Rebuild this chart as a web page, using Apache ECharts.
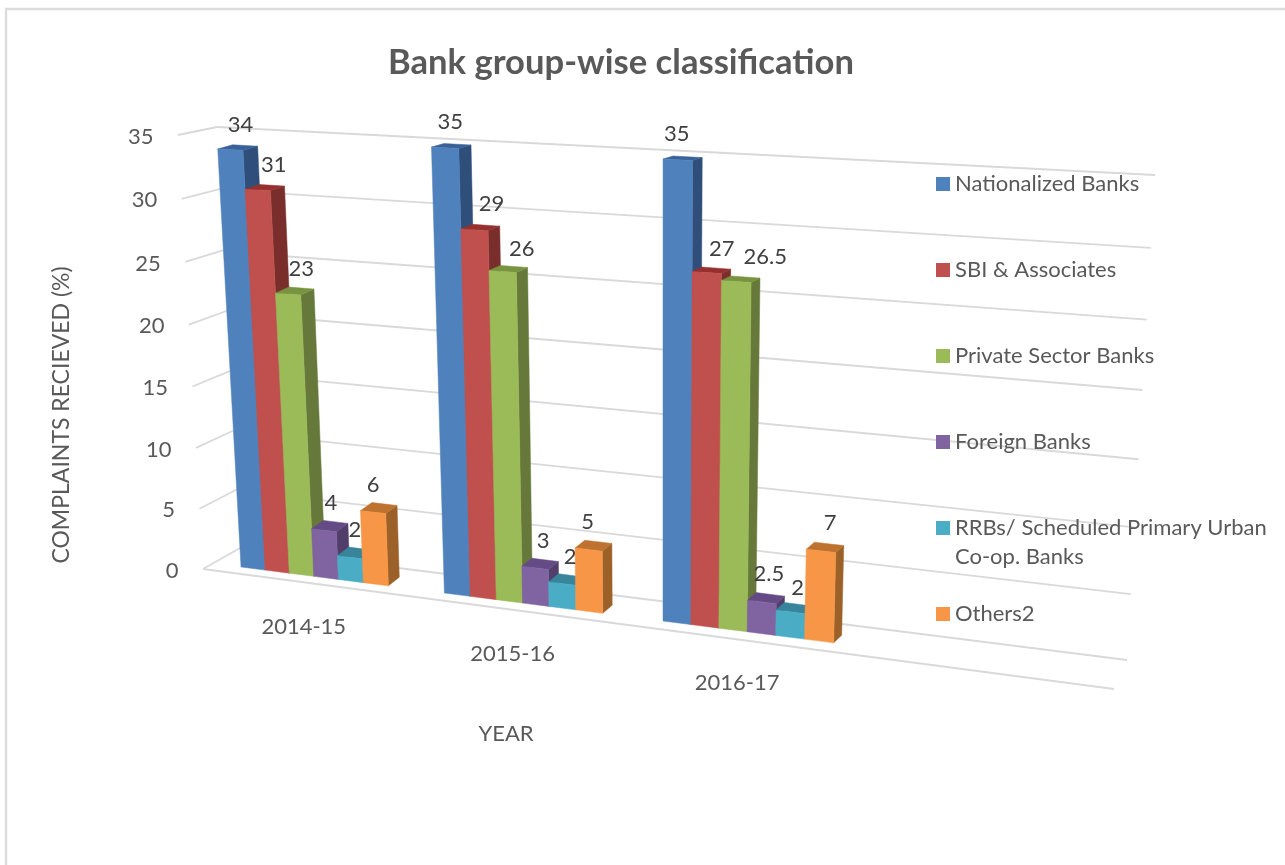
<!DOCTYPE html>
<html>
<head>
<meta charset="utf-8">
<title>Bank group-wise classification</title>
<script src="https://cdn.jsdelivr.net/npm/echarts@6/dist/echarts.min.js"></script>
<style>
  html, body { margin: 0; padding: 0; background: #fff; }
  #chart { width: 1285px; height: 865px; }
</style>
</head>
<body>
<div id="chart"></div>
<script>
// Complaint shares by bank group and year
const years = ['2014-15', '2015-16', '2016-17'];
const yTicks = [0, 5, 10, 15, 20, 25, 30, 35];
const bankGroups = [
  'Nationalized Banks',
  'SBI & Associates',
  'Private Sector Banks',
  'Foreign Banks',
  'RRBs/ Scheduled Primary Urban\nCo-op. Banks',
  'Others2'
];
const nationalized = [34, 35, 35];
const sbi = [31, 29, 27];
const privateSector = [23, 26, 26.5];
const foreign = [4, 3, 2.5];
const rrb = [2, 2, 2];
const others = [6, 5, 7];
const groupValues = [nationalized, sbi, privateSector, foreign, rrb, others];

// Face shades of each bar: lit front, dark side, mid top
const frontColors = ['#4F81BD', '#C0504D', '#9BBB59', '#8064A2', '#4BACC6', '#F79646'];
const sideColors = ['#2F4F7A', '#7A2E2C', '#66793A', '#523E6A', '#2F7A90', '#9C6129'];
const topColors = ['#3A6298', '#96302E', '#789440', '#654B85', '#38849A', '#BE722F'];

// Value label nudges from the centre of a bar's front top edge
const labelShift = [
  [[10, -25], [5, -26], [-1, -26]],
  [[16, -25], [17, -26], [15, -24]],
  [[13, -25], [19, -23], [29, -25]],
  [[7, -27], [8, -27], [7, -28]],
  [[5, -27], [8, -27], [7, -24]],
  [[0, -27], [-1, -28], [9, -28]]
];

const FONT = 'Lato, "Open Sans", sans-serif';
const TEXT_SIZE = 22;
const GRID_LINE = '#D9D9D9';
const AXIS_TEXT = '#595959';
const VALUE_TEXT = '#404040';
const BARS_PER_BAND = 8.2; // six bars plus the gap between year clusters

// Builds a projective map taking four source points onto four destinations
function projective(src, dst) {
  const m = [];
  src.forEach(function (p, i) {
    const x = p[0], y = p[1], X = dst[i][0], Y = dst[i][1];
    m.push([x, y, 1, 0, 0, 0, -x * X, -y * X, X]);
    m.push([0, 0, 0, x, y, 1, -x * Y, -y * Y, Y]);
  });
  for (let c = 0; c < 8; c++) {
    let pivot = c;
    for (let r = c + 1; r < 8; r++) {
      if (Math.abs(m[r][c]) > Math.abs(m[pivot][c])) pivot = r;
    }
    const tmp = m[c]; m[c] = m[pivot]; m[pivot] = tmp;
    for (let r = 0; r < 8; r++) {
      if (r === c) continue;
      const f = m[r][c] / m[c][c];
      for (let k = c; k < 9; k++) m[r][k] -= f * m[c][k];
    }
  }
  const h = m.map(function (row, i) { return row[8] / row[i]; });
  return function (s, t) {
    const w = h[6] * s + h[7] * t + 1;
    return [(h[0] * s + h[1] * t + h[2]) / w, (h[3] * s + h[4] * t + h[5]) / w];
  };
}

// Planes of the tilted scene, addressed in unit coordinates of the cartesian grid
const S0 = 0.134 / 3, S1 = 2.134 / 3;
const unitSquare = [[0, 0], [1, 0], [0, 1], [1, 1]];
const barFront = projective([[S0, 0], [S1, 0], [S0, 1], [S1, 1]],
  [[241, 567], [663, 621], [217, 136], [663, 159]]);
const barBack = projective([[S0, 0], [S1, 0], [S0, 1], [S1, 1]],
  [[253, 558], [672, 613], [232, 132], [673, 156]]);
const backWall = projective(unitSquare, [[240, 548], [1127, 660], [217, 127], [1155, 175]]);
const sideWall = projective(unitSquare, [[203, 569], [240, 548], [178, 135], [217, 127]]);
const floorPlane = projective(unitSquare, [[203, 569], [1114, 689], [240, 548], [1127, 660]]);

function unit(params, pt) {
  const g = params.coordSys;
  return [(pt[0] - g.x) / g.width, (g.y + g.height - pt[1]) / g.height];
}

function face(points, color) {
  return {
    type: 'polygon',
    shape: { points: points },
    style: { fill: color, stroke: color, lineWidth: 0.5 }
  };
}

function wire(a, b) {
  return {
    type: 'line',
    shape: { x1: a[0], y1: a[1], x2: b[0], y2: b[1] },
    style: { stroke: GRID_LINE, lineWidth: 1.8, fill: null }
  };
}

function label(text, p, color, align) {
  return {
    type: 'text',
    z2: 100,
    style: {
      text: String(text), x: p[0], y: p[1], fill: color,
      font: TEXT_SIZE + 'px ' + FONT, align: align || 'center', verticalAlign: 'middle'
    }
  };
}

// Walls, floor and value scale
function renderScale(params, api) {
  const tick = api.value(1);
  const t = unit(params, api.coord([0, tick]))[1];
  const sideFront = sideWall(0, t);
  const children = [
    wire(sideFront, sideWall(1, t)),
    wire(backWall(0, t), backWall(1, t)),
    label(tick, [sideFront[0] - 24.5, sideFront[1] + 1.5], AXIS_TEXT, 'right')
  ];
  if (tick === 0) children.push(wire(floorPlane(0, 0), floorPlane(1, 0)));
  return { type: 'group', children: children };
}

// Year captions sit a fixed distance below the cluster they name
function renderYear(params, api) {
  const i = api.value(0);
  const c = unit(params, api.coord([i, 0]));
  const p = barFront(c[0], 0);
  return label(years[i], [p[0] - 10, p[1] + 51], AXIS_TEXT);
}

function barRenderer(g) {
  return function (params, api) {
    const i = api.value(0);
    const value = api.value(1);
    const band = api.size([1, 0])[0];
    const width = band / BARS_PER_BAND;
    const base = api.coord([i, 0]);
    const head = api.coord([i, value]);
    const left = base[0] + (g - 3) * width;
    const a = unit(params, [left, base[1]]);
    const b = unit(params, [left + width, head[1]]);
    const l = a[0], r = b[0], t0 = a[1], t1 = b[1];
    const topL = barFront(l, t1), topR = barFront(r, t1);
    const shift = labelShift[g][i];
    return {
      type: 'group',
      children: [
        face([barFront(r, t0), barBack(r, t0), barBack(r, t1), topR], sideColors[g]),
        face([topL, topR, barBack(r, t1), barBack(l, t1)], topColors[g]),
        face([barFront(l, t0), barFront(r, t0), topR, topL], frontColors[g]),
        label(value, [(topL[0] + topR[0]) / 2 + shift[0], (topL[1] + topR[1]) / 2 + shift[1]], VALUE_TEXT)
      ]
    };
  };
}

const barSeries = bankGroups.map(function (name, g) {
  return {
    type: 'custom',
    name: name,
    coordinateSystem: 'cartesian2d',
    silent: true,
    itemStyle: { color: frontColors[g] },
    encode: { x: 0, y: 1 },
    renderItem: barRenderer(g),
    data: groupValues[g].map(function (v, i) { return [i, v]; })
  };
});

const chart = echarts.init(document.getElementById('chart'));
chart.setOption({
  animation: false,
  backgroundColor: '#ffffff',
  title: {
    text: 'Bank group-wise classification',
    left: 616,
    top: 40,
    textAlign: 'center',
    textStyle: { fontFamily: FONT, fontSize: 34.6, fontWeight: 'bold', color: AXIS_TEXT }
  },
  grid: { left: 100, top: 135, width: 812, height: 560 },
  xAxis: {
    type: 'category',
    data: years,
    name: 'YEAR',
    nameLocation: 'middle',
    nameGap: 28,
    nameTextStyle: { fontFamily: FONT, fontSize: TEXT_SIZE, color: AXIS_TEXT },
    axisLine: { show: false },
    axisTick: { show: false },
    axisLabel: { show: false }
  },
  yAxis: {
    type: 'value',
    min: 0,
    max: 35,
    interval: 5,
    name: 'COMPLAINTS RECIEVED (%)',
    nameLocation: 'middle',
    nameRotate: 90,
    nameGap: 27,
    nameTextStyle: { fontFamily: FONT, fontSize: 23, color: AXIS_TEXT },
    axisLine: { show: false },
    axisTick: { show: false },
    axisLabel: { show: false },
    splitLine: { show: false }
  },
  legend: {
    orient: 'vertical',
    left: 936,
    top: 173,
    padding: 0,
    icon: 'rect',
    itemWidth: 14,
    itemHeight: 14,
    itemGap: 64,
    selectedMode: false,
    data: bankGroups,
    formatter: function (name) { return name.split('\n')[0]; },
    textStyle: { fontFamily: FONT, fontSize: TEXT_SIZE, lineHeight: 20, color: AXIS_TEXT }
  },
  graphic: [
    {
      type: 'rect',
      silent: true,
      shape: { x: 6, y: 9, width: 1400, height: 1000 },
      style: { fill: null, stroke: '#DCDCDC', lineWidth: 2.4 },
      z: -1
    },
    {
      type: 'text',
      silent: true,
      x: 955,
      y: 557,
      style: {
        text: bankGroups[4].split('\n')[1],
        fill: AXIS_TEXT,
        font: TEXT_SIZE + 'px ' + FONT,
        verticalAlign: 'middle'
      }
    }
  ],
  series: [
    {
      type: 'custom',
      silent: true,
      coordinateSystem: 'cartesian2d',
      encode: { x: 0, y: 1 },
      renderItem: renderScale,
      data: yTicks.map(function (t) { return [0, t]; })
    },
    {
      type: 'custom',
      silent: true,
      coordinateSystem: 'cartesian2d',
      encode: { x: 0, y: 1 },
      renderItem: renderYear,
      data: years.map(function (y, i) { return [i, 0]; })
    }
  ].concat(barSeries)
});
</script>
</body>
</html>
